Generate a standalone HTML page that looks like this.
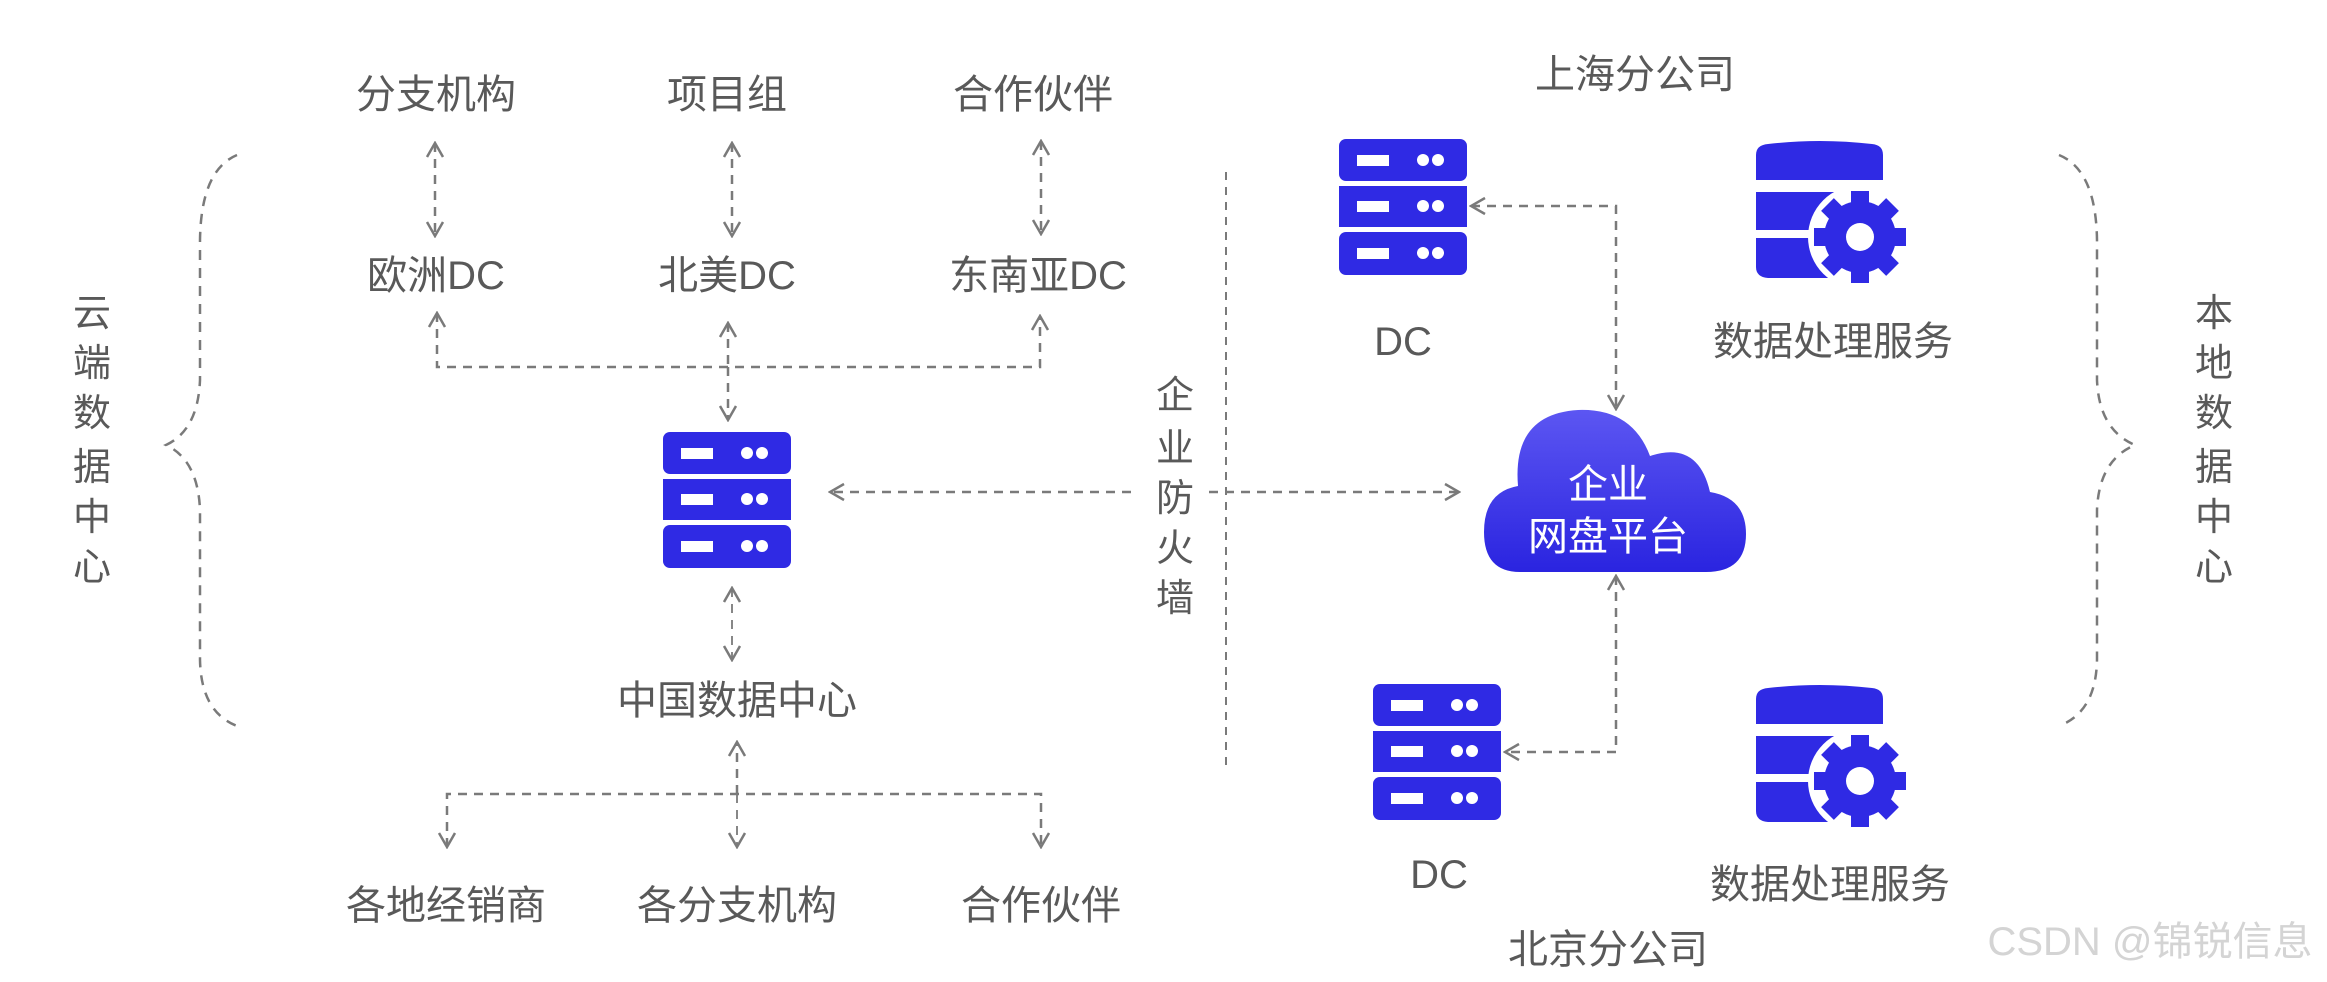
<!DOCTYPE html>
<html><head><meta charset="utf-8"><style>
html,body{margin:0;padding:0;background:#fff;}
svg{display:block;}
text{font-family:"Liberation Sans","Noto Sans CJK SC",sans-serif;fill:#595959;}
</style></head><body>
<svg width="2327" height="982" viewBox="0 0 2327 982" xmlns="http://www.w3.org/2000/svg">
<defs>
<marker id="ah" viewBox="0 0 20 20" refX="18" refY="10" markerWidth="20" markerHeight="20" markerUnits="userSpaceOnUse" orient="auto-start-reverse">
<path d="M4 2 L18 10 L4 18" fill="none" stroke="#7a7a7a" stroke-width="2.5"/>
</marker>
<linearGradient id="cg" x1="0" y1="0" x2="0" y2="1">
<stop offset="0" stop-color="#5c56f2"/><stop offset="1" stop-color="#2a24e0"/>
</linearGradient>
<g id="srv">
<rect x="0" y="0" width="128" height="42" rx="7" fill="#2f2ae4"/>
<rect x="0" y="47" width="128" height="41" fill="#2f2ae4"/>
<rect x="0" y="93" width="128" height="43" rx="7" fill="#2f2ae4"/>
<rect x="18" y="16" width="32" height="11" fill="#fff"/>
<circle cx="84" cy="21" r="6" fill="#fff"/><circle cx="99" cy="21" r="6" fill="#fff"/>
<rect x="18" y="62" width="32" height="11" fill="#fff"/>
<circle cx="84" cy="67" r="6" fill="#fff"/><circle cx="99" cy="67" r="6" fill="#fff"/>
<rect x="18" y="109" width="32" height="11" fill="#fff"/>
<circle cx="84" cy="114" r="6" fill="#fff"/><circle cx="99" cy="114" r="6" fill="#fff"/>
</g>
<g id="svc">
<path d="M0 14 Q0 4 12 3 Q64 -3 116 3 Q127 4 127 14 L127 39 L0 39 Z" fill="#2f2ae4"/>
<rect x="0" y="51" width="127" height="38" fill="#2f2ae4"/>
<path d="M0 97 L127 97 L127 137 L12 137 Q0 136 0 126 Z" fill="#2f2ae4"/>
<circle cx="104" cy="96" r="52" fill="#fff"/>
<g fill="#2f2ae4" transform="translate(104,96)">
<circle r="36"/>
<rect x="-9" y="-46" width="18" height="92"/>
<rect x="-9" y="-46" width="18" height="92" transform="rotate(45)"/>
<rect x="-9" y="-46" width="18" height="92" transform="rotate(90)"/>
<rect x="-9" y="-46" width="18" height="92" transform="rotate(135)"/>
<circle r="14" fill="#fff"/>
</g>
</g>
</defs>

<g font-size="40" text-anchor="middle">
<text x="436" y="108">分支机构</text>
<text x="727" y="108">项目组</text>
<text x="1033" y="108">合作伙伴</text>
<text x="436" y="289">欧洲DC</text>
<text x="727" y="289">北美DC</text>
<text x="1038" y="289">东南亚DC</text>
<text x="737" y="714">中国数据中心</text>
<text x="446" y="919">各地经销商</text>
<text x="737" y="919">各分支机构</text>
<text x="1041" y="919">合作伙伴</text>
<text x="1635" y="88">上海分公司</text>
<text x="1403" y="355">DC</text>
<text x="1833" y="355">数据处理服务</text>
<text x="1439" y="888">DC</text>
<text x="1830" y="898">数据处理服务</text>
<text x="1608" y="963">北京分公司</text>
</g>
<g font-size="38" text-anchor="middle">
<text x="92" y="326">云</text><text x="92" y="376">端</text><text x="92" y="426">数</text><text x="92" y="480">据</text><text x="92" y="530">中</text><text x="92" y="580">心</text>
<text x="2214" y="326">本</text><text x="2214" y="376">地</text><text x="2214" y="426">数</text><text x="2214" y="480">据</text><text x="2214" y="530">中</text><text x="2214" y="580">心</text>
<text x="1175" y="408">企</text><text x="1175" y="461">业</text><text x="1175" y="511">防</text><text x="1175" y="561">火</text><text x="1175" y="611">墙</text>
</g>

<g fill="none" stroke="#7a7a7a" stroke-width="2.5" stroke-dasharray="9 7">
<line x1="435" y1="143" x2="435" y2="236" marker-start="url(#ah)" marker-end="url(#ah)"/>
<line x1="732" y1="143" x2="732" y2="236" marker-start="url(#ah)" marker-end="url(#ah)"/>
<line x1="1041" y1="141" x2="1041" y2="234" marker-start="url(#ah)" marker-end="url(#ah)"/>
<path d="M437 313 L437 367 L1040 367 L1040 316" marker-start="url(#ah)" marker-end="url(#ah)"/>
<line x1="728" y1="323" x2="728" y2="367" marker-start="url(#ah)"/>
<line x1="728" y1="367" x2="728" y2="420" marker-end="url(#ah)"/>
<line x1="1131" y1="492" x2="830" y2="492" marker-end="url(#ah)"/>
<line x1="1209" y1="492" x2="1459" y2="492" marker-end="url(#ah)"/>
<line x1="732" y1="588" x2="732" y2="660" stroke-width="1.8" marker-start="url(#ah)" marker-end="url(#ah)"/>
<line x1="737" y1="794" x2="737" y2="742" marker-end="url(#ah)"/>
<path d="M447 847 L447 794 L1041 794 L1041 847" marker-start="url(#ah)" marker-end="url(#ah)"/>
<line x1="737" y1="794" x2="737" y2="847" stroke-width="1.8" marker-end="url(#ah)"/>
<line x1="1226" y1="172" x2="1226" y2="772" stroke-width="2" stroke-dasharray="8 7"/>
<path d="M1471 206 L1616 206 L1616 409" marker-start="url(#ah)" marker-end="url(#ah)"/>
<path d="M1616 576 L1616 752 L1505 752" marker-start="url(#ah)" marker-end="url(#ah)"/>
<path d="M237 155 Q201 170 200 240 L200 380 Q198 430 166 445 Q198 460 200 510 L200 660 Q201 712 237 726" stroke-dasharray="10 8"/>
<path d="M2059 155 Q2096 170 2097 240 L2097 380 Q2099 430 2135 445 Q2099 460 2097 510 L2097 660 Q2096 712 2059 726" stroke-dasharray="10 8"/>
</g>

<use href="#srv" transform="translate(663,432)"/>
<use href="#srv" transform="translate(1339,139)"/>
<use href="#srv" transform="translate(1373,684)"/>
<use href="#svc" transform="translate(1756,141)"/>
<use href="#svc" transform="translate(1756,685)"/>

<path d="M1520 572 Q1484 572 1484 532 Q1484 492 1518 486 Q1512 414 1578 410 Q1632 408 1650 456 Q1698 440 1710 492 Q1746 498 1746 534 Q1746 572 1706 572 Z" fill="url(#cg)"/>
<g font-size="40" text-anchor="middle">
<text x="1608" y="498" style="fill:#fff">企业</text>
<text x="1608" y="550" style="fill:#fff">网盘平台</text>
</g>

<text x="2150" y="955" font-size="40" text-anchor="middle" style="fill:#d4d4d4">CSDN @锦锐信息</text>
</svg>
</body></html>
